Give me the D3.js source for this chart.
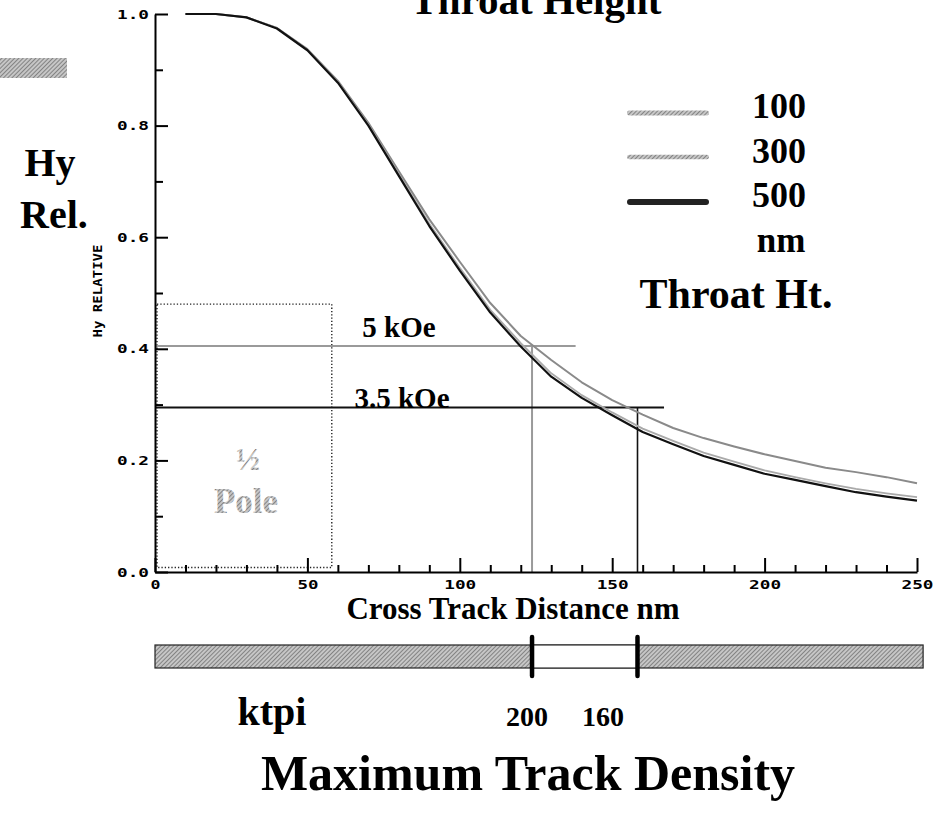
<!DOCTYPE html>
<html>
<head>
<meta charset="utf-8">
<script src="https://cdn.jsdelivr.net/npm/d3@7"></script>
<style>
  html, body { margin: 0; padding: 0; background: #fff; }
  svg { display: block; }
  .serif { font-family: "Liberation Serif", "Times New Roman", serif; font-weight: bold; }
  .mono { font-family: "DejaVu Sans Mono", monospace; font-weight: bold; }
</style>
</head>
<body>
<div id="chart"></div>
<script>
// Cross-track distance (nm) at which the relative field Hy was sampled
const crossTrack = [10, 20, 30, 40, 50, 60, 70, 80, 90, 100, 110, 120, 130,
                    140, 150, 160, 170, 180, 190, 200, 210, 220, 230, 240, 250];

// Relative Hy for three throat heights (nm)
const hy100 = [1.000, 1.000, 0.994, 0.975, 0.937, 0.880, 0.805, 0.718, 0.632, 0.556, 0.482, 0.423, 0.380,
               0.340, 0.308, 0.282, 0.258, 0.240, 0.225, 0.211, 0.199, 0.187, 0.179, 0.170, 0.159];
const hy300 = [1.000, 1.000, 0.994, 0.975, 0.936, 0.878, 0.802, 0.713, 0.624, 0.545, 0.470, 0.410, 0.356,
               0.317, 0.286, 0.257, 0.235, 0.214, 0.198, 0.182, 0.170, 0.159, 0.149, 0.141, 0.134];
const hy500 = [1.000, 1.000, 0.994, 0.974, 0.935, 0.877, 0.800, 0.710, 0.620, 0.540, 0.465, 0.404, 0.350,
               0.312, 0.281, 0.251, 0.229, 0.208, 0.192, 0.176, 0.165, 0.154, 0.143, 0.135, 0.128];

const throatHeights = ["100", "300", "500"];

// Write-field thresholds and where they cut the response
const fieldLabels = ["5 kOe", "3.5 kOe"];
const fieldLevels = [0.405, 0.295];
const fieldLineEnds = [138, 167];
const trackWidths = [123.7, 158.3];

// Track density scale
const ktpiLabels = ["200", "160"];
const densityBarEnd = 252;

// Half-pole outline
const halfPoleWidth = 58;
const halfPoleTop = 0.48;

// Axis ticks
const xMajorTicks = [0, 50, 100, 150, 200, 250];
const xMinorTicks = [10, 20, 30, 40, 60, 70, 80, 90, 110, 120, 130, 140, 160, 170, 180, 190, 210, 220, 230, 240];
const yMajorTicks = [0, 0.2, 0.4, 0.6, 0.8, 1.0];
const yMinorTicks = [0.1, 0.3, 0.5, 0.7, 0.9];

const W = 947, H = 816;
const svg = d3.select("#chart").append("svg").attr("width", W).attr("height", H);
svg.append("rect").attr("width", W).attr("height", H).attr("fill", "#fff");

// Printed halftone look for grey fills
const defs = svg.append("defs");
const hatch = defs.append("pattern").attr("id", "hatch")
  .attr("width", 3).attr("height", 3)
  .attr("patternUnits", "userSpaceOnUse")
  .attr("patternTransform", "rotate(45)");
hatch.append("rect").attr("width", 3).attr("height", 3).attr("fill", "#c6c6c6");
hatch.append("line").attr("x1", 0).attr("y1", 0).attr("x2", 0).attr("y2", 3)
  .attr("stroke", "#555").attr("stroke-width", 1.2);

const x = d3.scaleLinear().domain([0, 250]).range([155, 917]);
const y = d3.scaleLinear().domain([0, 1]).range([572, 14]);

// Stray grey block at the upper left
svg.append("rect").attr("x", 0).attr("y", 58).attr("width", 67).attr("height", 20)
  .attr("fill", "url(#hatch)");

// Title (runs off the top edge)
svg.append("text").attr("class", "serif").attr("x", 536).attr("y", 14)
  .attr("text-anchor", "middle").attr("font-size", 41).text("Throat Height");

// Axis names
svg.append("text").attr("class", "serif").attr("x", 50).attr("y", 176)
  .attr("text-anchor", "middle").attr("font-size", 40).text("Hy");
svg.append("text").attr("class", "serif").attr("x", 54).attr("y", 228)
  .attr("text-anchor", "middle").attr("font-size", 40).text("Rel.");
svg.append("text").attr("class", "mono")
  .attr("transform", "translate(102,291) rotate(-90)")
  .attr("text-anchor", "middle").attr("font-size", 13)
  .attr("textLength", 93).attr("lengthAdjust", "spacingAndGlyphs")
  .text("Hy RELATIVE");

// Half-pole box
svg.append("rect")
  .attr("x", x(0) + 2).attr("y", y(halfPoleTop))
  .attr("width", x(halfPoleWidth) - x(0) - 2)
  .attr("height", y(0.008) - y(halfPoleTop))
  .attr("fill", "none").attr("stroke", "#222").attr("stroke-width", 1.4)
  .attr("stroke-dasharray", "1.3,2");
svg.append("text").attr("class", "serif").attr("x", 248).attr("y", 470)
  .attr("text-anchor", "middle").attr("font-size", 32).attr("fill", "url(#hatch)").text("½");
svg.append("text").attr("class", "serif").attr("x", 246).attr("y", 513)
  .attr("text-anchor", "middle").attr("font-size", 35).attr("fill", "url(#hatch)").text("Pole");

// Field threshold lines
const fieldColors = ["#9a9a9a", "#111"];
fieldLevels.forEach((lv, i) => {
  svg.append("line")
    .attr("x1", x(0)).attr("x2", x(fieldLineEnds[i]))
    .attr("y1", y(lv)).attr("y2", y(lv))
    .attr("stroke", fieldColors[i]).attr("stroke-width", 2);
  svg.append("line")
    .attr("x1", x(trackWidths[i])).attr("x2", x(trackWidths[i]))
    .attr("y1", y(lv)).attr("y2", y(0))
    .attr("stroke", fieldColors[i]).attr("stroke-width", i === 0 ? 2 : 1.6);
});
svg.append("text").attr("class", "serif").attr("x", 399).attr("y", 337)
  .attr("text-anchor", "middle").attr("font-size", 29).text(fieldLabels[0]);
svg.append("text").attr("class", "serif").attr("x", 402).attr("y", 408)
  .attr("text-anchor", "middle").attr("font-size", 29).text(fieldLabels[1]);

// Response curves
const seriesData = [hy100, hy300, hy500];
const seriesColors = ["#8a8a8a", "#aaaaaa", "#111"];
const seriesWidths = [2, 1.8, 2.2];
const line = d3.line().x(d => x(d[0])).y(d => y(d[1]));
seriesData.forEach((vals, i) => {
  svg.append("path")
    .datum(crossTrack.map((c, j) => [c, vals[j]]))
    .attr("d", line)
    .attr("fill", "none")
    .attr("stroke", seriesColors[i])
    .attr("stroke-width", seriesWidths[i])
    .attr("stroke-linejoin", "round");
});

// Axes
function styleAxis(g) {
  g.selectAll("path.domain").attr("stroke", "#000").attr("stroke-width", 2);
  g.selectAll(".tick line").attr("stroke", "#000").attr("stroke-width", 2);
}
const yAxisMajor = svg.append("g").attr("transform", `translate(${x(0)},0)`)
  .call(d3.axisLeft(y).tickValues(yMajorTicks).tickSize(-13).tickSizeOuter(0).tickPadding(6)
    .tickFormat(d3.format(".1f")));
styleAxis(yAxisMajor);
yAxisMajor.selectAll("text").attr("class", "mono").attr("font-size", 13)
  .attr("fill", "#000").attr("textLength", 32).attr("lengthAdjust", "spacingAndGlyphs");
const yAxisMinor = svg.append("g").attr("transform", `translate(${x(0)},0)`)
  .call(d3.axisLeft(y).tickValues(yMinorTicks).tickSize(-8).tickSizeOuter(0).tickFormat(""));
styleAxis(yAxisMinor);
yAxisMinor.select("path.domain").remove();

const xAxisMajor = svg.append("g").attr("transform", `translate(0,${y(0)})`)
  .call(d3.axisBottom(x).tickValues(xMajorTicks).tickSize(-14).tickSizeOuter(0).tickPadding(8)
    .tickFormat(d3.format("d")));
styleAxis(xAxisMajor);
xAxisMajor.selectAll("text").attr("class", "mono").attr("font-size", 12).attr("fill", "#000")
  .each(function(d) {
    const n = String(d).length;
    d3.select(this).attr("textLength", n * 11 - 1).attr("lengthAdjust", "spacingAndGlyphs");
  });
const xAxisMinor = svg.append("g").attr("transform", `translate(0,${y(0)})`)
  .call(d3.axisBottom(x).tickValues(xMinorTicks).tickSize(-7).tickSizeOuter(0).tickFormat(""));
styleAxis(xAxisMinor);
xAxisMinor.select("path.domain").remove();

svg.append("text").attr("class", "serif").attr("x", 513).attr("y", 619)
  .attr("text-anchor", "middle").attr("font-size", 31).text("Cross Track Distance nm");

// Legend
const legendY = [113, 157, 202];
const legendBaseline = [118, 163, 207];
const legendStroke = ["url(#hatch)", "url(#hatch)", "#222"];
const legendWidth = [5, 4.5, 6];
throatHeights.forEach((t, i) => {
  svg.append("rect")
    .attr("x", 627).attr("y", legendY[i] - legendWidth[i] / 2)
    .attr("width", 82).attr("height", legendWidth[i])
    .attr("rx", legendWidth[i] / 2)
    .attr("fill", legendStroke[i]);
  svg.append("text").attr("class", "serif").attr("x", 752).attr("y", legendBaseline[i])
    .attr("font-size", 36).text(t);
});
svg.append("text").attr("class", "serif").attr("x", 781).attr("y", 252)
  .attr("text-anchor", "middle").attr("font-size", 35).text("nm");
svg.append("text").attr("class", "serif").attr("x", 736).attr("y", 308)
  .attr("text-anchor", "middle").attr("font-size", 42).text("Throat Ht.");

// Track density bar
const barTop = 645, barBottom = 668;
svg.append("rect").attr("x", x(0)).attr("y", barTop)
  .attr("width", x(densityBarEnd) - x(0)).attr("height", barBottom - barTop)
  .attr("fill", "url(#hatch)").attr("stroke", "#222").attr("stroke-width", 1.2);
svg.append("rect").attr("x", x(trackWidths[0])).attr("y", barTop)
  .attr("width", x(trackWidths[1]) - x(trackWidths[0])).attr("height", barBottom - barTop)
  .attr("fill", "#fff").attr("stroke", "#333").attr("stroke-width", 1.2);
const ktpiLabelX = [527, 603];
trackWidths.forEach((tw, i) => {
  svg.append("line").attr("x1", x(tw)).attr("x2", x(tw))
    .attr("y1", barTop - 8).attr("y2", barBottom + 8)
    .attr("stroke", "#000").attr("stroke-width", 4.5).attr("stroke-linecap", "round");
  svg.append("text").attr("class", "serif").attr("x", ktpiLabelX[i]).attr("y", 726)
    .attr("text-anchor", "middle").attr("font-size", 28).text(ktpiLabels[i]);
});
svg.append("text").attr("class", "serif").attr("x", 272).attr("y", 725)
  .attr("text-anchor", "middle").attr("font-size", 40).text("ktpi");

svg.append("text").attr("class", "serif").attr("x", 528).attr("y", 790)
  .attr("text-anchor", "middle").attr("font-size", 50).text("Maximum Track Density");
</script>
</body>
</html>
